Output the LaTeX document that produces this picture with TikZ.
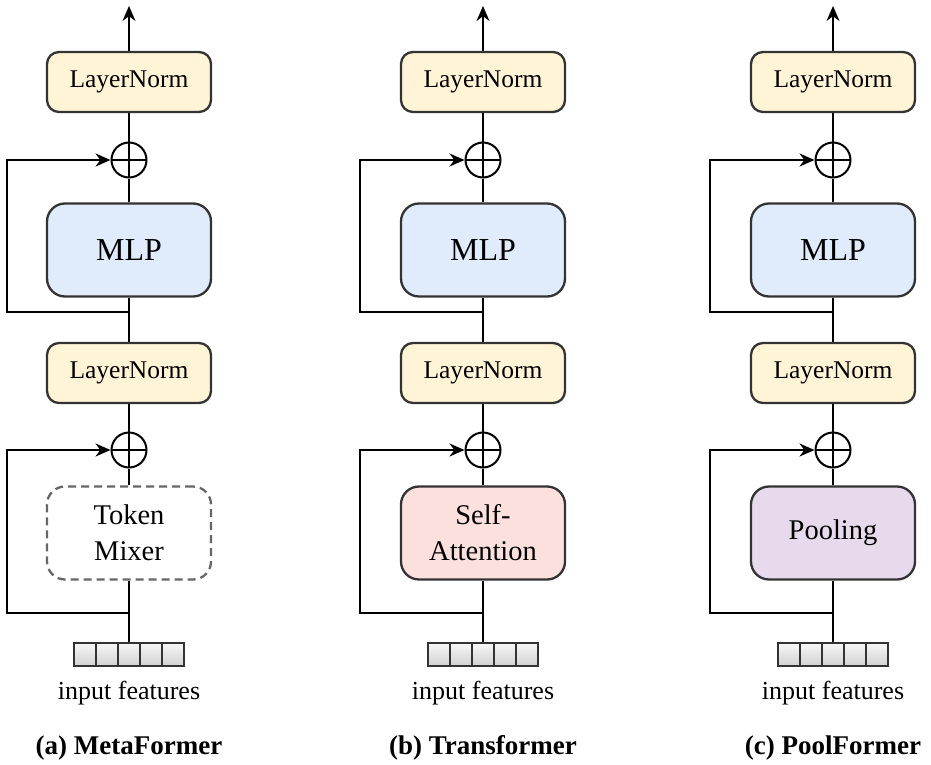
\documentclass[tikz,border=0pt]{standalone}
\usepackage{fontspec}
\setmainfont{Liberation Serif}
\usetikzlibrary{positioning,arrows.meta}

\definecolor{lnyellow}{HTML}{FFF4D6}
\definecolor{mlpblue}{HTML}{E0ECFB}
\definecolor{attnpink}{HTML}{FCE0DD}
\definecolor{poolpurple}{HTML}{E6DAEC}
\definecolor{edgegray}{HTML}{333333}

\tikzset{
  ln node/.style={draw=edgegray, line width=2.3pt, rounded corners=12pt, fill=lnyellow,
    minimum width=164pt, minimum height=60pt, font=\fontsize{25.5}{30}\selectfont},
  big node/.style={draw=edgegray, line width=2.3pt, rounded corners=18pt,
    minimum width=164pt, minimum height=93pt, align=center, font=\fontsize{28.5}{36}\selectfont},
  mlp node/.style={big node, fill=mlpblue, font=\fontsize{32}{38}\selectfont},
  add node/.style={draw, circle, line width=2pt, minimum size=35pt, inner sep=0pt,
    path picture={\draw[line width=2pt] (path picture bounding box.north) -- (path picture bounding box.south)
      (path picture bounding box.west) -- (path picture bounding box.east);}},
  cell node/.style={draw=edgegray, line width=2pt, top color=gray!6, bottom color=gray!35,
    minimum width=22pt, minimum height=23pt, inner sep=0pt},
  feat node/.style={font=\fontsize{26}{30}\selectfont},
  caption node/.style={font=\fontsize{27}{32}\selectfont\bfseries}
}

\begin{document}
\begin{tikzpicture}[x=1pt,y=-1pt, line width=2pt, >={Stealth[length=15pt,width=13pt]}]
\useasboundingbox (0,0) rectangle (931,765);

% (a) MetaFormer
\node[ln node] (lnA1) at (129,82) {LayerNorm};
\node[add node] (addA1) at (129,160) {};
\node[mlp node] (mlpA) at (129,250) {MLP};
\node[ln node] (lnA2) at (129,373) {LayerNorm};
\node[add node] (addA2) at (129,450) {};
\node[big node, draw=gray!80!black, dash pattern=on 8pt off 5pt, fill=white] (mixA) at (129,533) {Token\\Mixer};
\foreach \i in {1,...,5}
  \node[cell node] (inA\i) at ({129+(\i-3)*22},654) {};
\node[feat node] (txtA) at (129,693) {input features};
\node[caption node] (capA) at (129,748) {(a) MetaFormer};
\coordinate (outA) at (129,6);
\coordinate (brA1) at (129,312);
\coordinate (skA1) at (7,312);
\coordinate (brA2) at (129,613);
\coordinate (skA2) at (7,613);

\draw[->] (lnA1) -- (outA);
\draw (addA1) -- (lnA1);
\draw (mlpA) -- (addA1);
\draw (lnA2) -- (mlpA);
\draw[->] (brA1) -- (skA1) |- (addA1);
\draw (addA2) -- (lnA2);
\draw (mixA) -- (addA2);
\draw (inA3) -- (mixA);
\draw[->] (brA2) -- (skA2) |- (addA2);

% (b) Transformer
\node[ln node] (lnB1) at (483,82) {LayerNorm};
\node[add node] (addB1) at (483,160) {};
\node[mlp node] (mlpB) at (483,250) {MLP};
\node[ln node] (lnB2) at (483,373) {LayerNorm};
\node[add node] (addB2) at (483,450) {};
\node[big node, fill=attnpink] (attB) at (483,533) {Self-\\Attention};
\foreach \i in {1,...,5}
  \node[cell node] (inB\i) at ({483+(\i-3)*22},654) {};
\node[feat node] (txtB) at (483,693) {input features};
\node[caption node] (capB) at (483,748) {(b) Transformer};
\coordinate (outB) at (483,6);
\coordinate (brB1) at (483,312);
\coordinate (skB1) at (360,312);
\coordinate (brB2) at (483,613);
\coordinate (skB2) at (360,613);

\draw[->] (lnB1) -- (outB);
\draw (addB1) -- (lnB1);
\draw (mlpB) -- (addB1);
\draw (lnB2) -- (mlpB);
\draw[->] (brB1) -- (skB1) |- (addB1);
\draw (addB2) -- (lnB2);
\draw (attB) -- (addB2);
\draw (inB3) -- (attB);
\draw[->] (brB2) -- (skB2) |- (addB2);

% (c) PoolFormer
\node[ln node] (lnC1) at (833,82) {LayerNorm};
\node[add node] (addC1) at (833,160) {};
\node[mlp node] (mlpC) at (833,250) {MLP};
\node[ln node] (lnC2) at (833,373) {LayerNorm};
\node[add node] (addC2) at (833,450) {};
\node[big node, fill=poolpurple] (poolC) at (833,533) {Pooling};
\foreach \i in {1,...,5}
  \node[cell node] (inC\i) at ({833+(\i-3)*22},654) {};
\node[feat node] (txtC) at (833,693) {input features};
\node[caption node] (capC) at (833,748) {(c) PoolFormer};
\coordinate (outC) at (833,6);
\coordinate (brC1) at (833,312);
\coordinate (skC1) at (710,312);
\coordinate (brC2) at (833,613);
\coordinate (skC2) at (710,613);

\draw[->] (lnC1) -- (outC);
\draw (addC1) -- (lnC1);
\draw (mlpC) -- (addC1);
\draw (lnC2) -- (mlpC);
\draw[->] (brC1) -- (skC1) |- (addC1);
\draw (addC2) -- (lnC2);
\draw (poolC) -- (addC2);
\draw (inC3) -- (poolC);
\draw[->] (brC2) -- (skC2) |- (addC2);
\end{tikzpicture}
\end{document}
